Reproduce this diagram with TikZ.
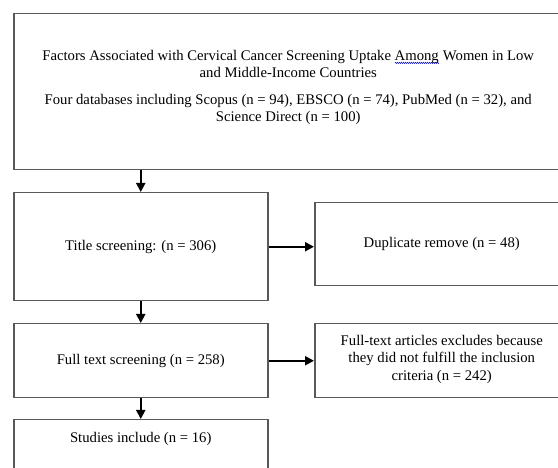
\documentclass[tikz,border=0pt]{standalone}
\usepackage{fontspec}
\setmainfont{Liberation Serif}
\usetikzlibrary{arrows.meta,decorations.pathmorphing}

\newsavebox{\spellbox}
\newcommand{\spellmark}[1]{\sbox{\spellbox}{#1}\rlap{\usebox{\spellbox}}%
  \smash{\raisebox{-3.5pt}{\tikz[x=1pt,y=1pt,inner sep=0pt]
    \draw[blue!80!black, line width=0.5pt, decorate,
      decoration={zigzag, segment length=2pt, amplitude=0.6pt}] (0,0) -- (\wd\spellbox,0);}}}

\begin{document}
\begin{tikzpicture}[x=1pt, y=-1pt,
  box/.style={draw=black!65, line width=1.5pt, rectangle, inner sep=0pt,
    anchor=north west, align=center, font=\fontsize{14.7}{17.4}\selectfont},
  flow/.style={line width=2pt, -{Triangle[length=9pt, width=9pt]}}]
  \useasboundingbox (0,0) rectangle (558,468);
  \clip (0,0) rectangle (558,468);

  % Search box
  \node[box, minimum width=549pt, minimum height=156pt, text depth=12pt] (search) at (13,13)
    {Factors Associated with Cervical Cancer Screening Uptake \spellmark{Among} Women in Low\\
     and Middle-Income Countries\\[9pt]
     Four databases including Scopus (n = 94), EBSCO (n = 74), PubMed (n = 32), and\\
     Science Direct (n = 100)};

  % Left column
  \node[box, minimum width=254pt, minimum height=108pt] (title) at (13,192)
    {Title screening: (n = 306)};
  \node[box, minimum width=254pt, minimum height=74pt] (fulltext) at (13,323)
    {Full text screening (n = 258)};
  \node[box, minimum width=254pt, minimum height=60pt, text height=10pt, text depth=24pt] (studies) at (13,419)
    {Studies include (n = 16)};

  % Right column
  \node[box, minimum width=254pt, minimum height=83pt] (dup) at (314,202)
    {Duplicate remove (n = 48)};
  \node[box, minimum width=254pt, minimum height=74pt, text depth=6pt] (excluded) at (314,323)
    {Full-text articles excludes because\\
     they did not fulfill the inclusion\\
     criteria (n = 242)};

  % Arrows
  \draw[flow] (search.south -| title.north) -- (title.north);
  \draw[flow] (title.south) -- (fulltext.north);
  \draw[flow] (fulltext.south) -- (studies.north);
  \draw[flow] (title.east) -- (title.east -| dup.west);
  \draw[flow] (fulltext.east) -- (excluded.west);
\end{tikzpicture}
\end{document}
